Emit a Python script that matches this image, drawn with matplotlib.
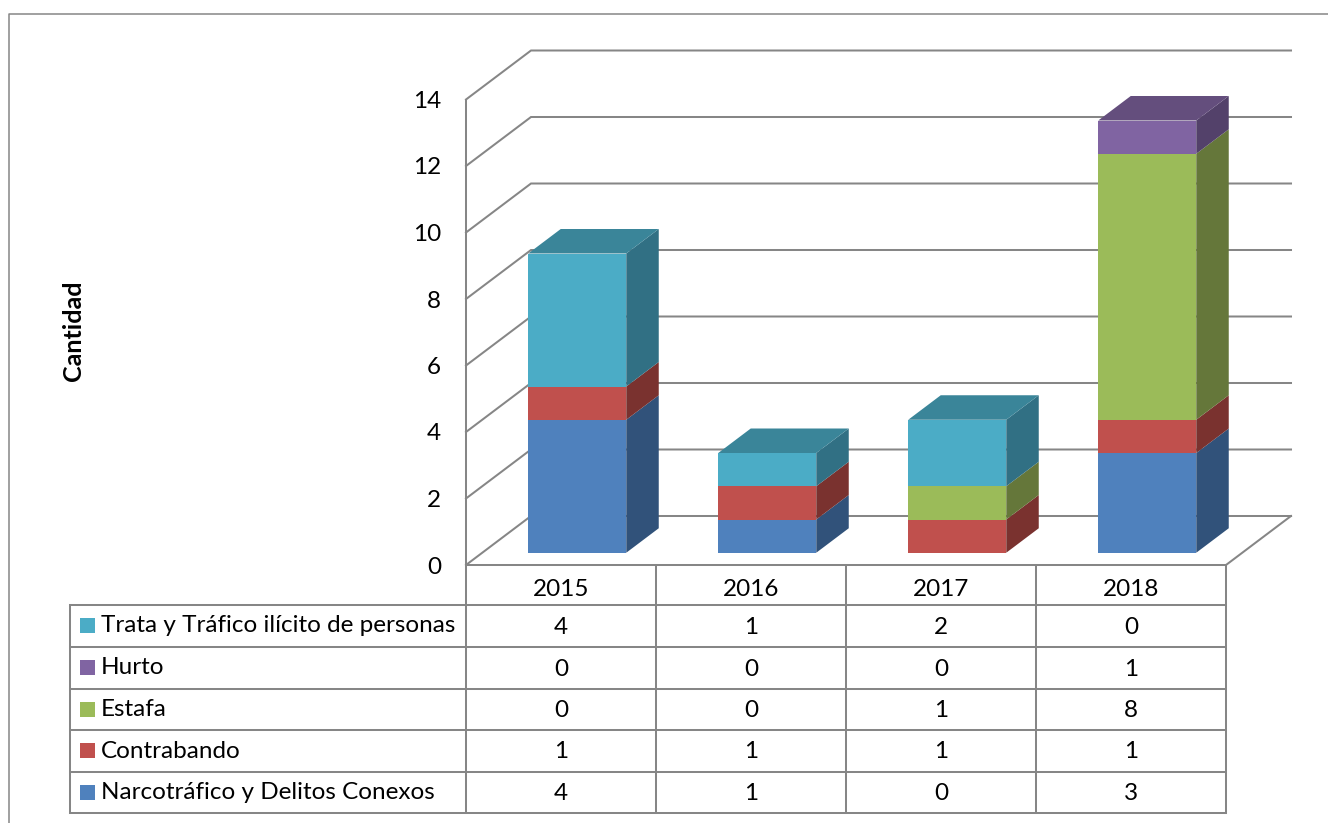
import matplotlib
matplotlib.use("Agg")
import matplotlib.pyplot as plt
from matplotlib.patches import Polygon, Rectangle

plt.rcParams['font.family'] = ['Lato', 'DejaVu Sans']

years = ['2015', '2016', '2017', '2018']
narcotrafico = [4, 1, 0, 3]
contrabando = [1, 1, 1, 1]
estafa = [0, 0, 1, 8]
hurto = [0, 0, 0, 1]
trata = [4, 1, 2, 0]
series_names = ['Narcotráfico y Delitos Conexos', 'Contrabando', 'Estafa', 'Hurto',
                'Trata y Tráfico ilícito de personas']
series_values = [narcotrafico, contrabando, estafa, hurto, trata]
front_colors = ['#4F81BD', '#C0504D', '#9BBB59', '#8064A2', '#4BACC6']
side_colors = ['#31527A', '#7A322F', '#65773A', '#53416A', '#317084']
top_colors = ['#3B6291', '#91403D', '#76904A', '#644E7D', '#3A8599']
yticks = list(range(0, 15, 2))

W, H = 1328, 823
GRID = '#868686'
FS = 17.5
fig = plt.figure(figsize=(W / 100, H / 100), dpi=100, facecolor='white')

# page-pixel overlay for frame and data table
ov = fig.add_axes([0, 0, 1, 1], zorder=1)
ov.set_xlim(0, W)
ov.set_ylim(H, 0)
ov.axis('off')

# chart axes: the front plane of the 3D box
L, R, T, B = 466, 1226, 99.5, 565
ax = fig.add_axes([L / W, 1 - B / H, (R - L) / W, (B - T) / H], zorder=2)
ax.patch.set_alpha(0)
ax.set_xlim(0, 4)
ax.set_ylim(0, 14)
for s in ax.spines.values():
    s.set_visible(False)
ax.set_xticks([])
ax.set_yticks(yticks)
ax.tick_params(axis='y', length=0, pad=18, labelsize=FS, labelcolor='black')

DX = 65 / 190   # depth of box in category units
DY = 49 / 33.25  # depth of box in value units


def P(x, v, d):
    return (x + d * DX, v + d * DY)


lw = 1.45
# walls
for v in yticks:
    ax.plot(*zip(P(0, v, 0), P(0, v, 1), P(4, v, 1)), color=GRID, lw=lw, clip_on=False, zorder=1,
            solid_joinstyle='miter')
ax.plot(*zip(P(0, 0, 0), P(4, 0, 0), P(4, 0, 1)), color=GRID, lw=lw, clip_on=False, zorder=1)

# stacked 3D bars
bw = 98 / 190
d0, d1 = 0.25, 0.75
for i in range(len(years)):
    x0, x1 = i + 0.5 - bw / 2, i + 0.5 + bw / 2
    base = 0
    last = None
    for k, vals in enumerate(series_values):
        h = vals[i]
        if h == 0:
            continue
        b, t = base, base + h
        ax.add_patch(Polygon([P(x0, b, d0), P(x1, b, d0), P(x1, t, d0), P(x0, t, d0)],
                             fc=front_colors[k], ec='none', zorder=5, clip_on=False))
        ax.add_patch(Polygon([P(x1, b, d0), P(x1, b, d1), P(x1, t, d1), P(x1, t, d0)],
                             fc=side_colors[k], ec='none', zorder=4, clip_on=False))
        base = t
        last = k
    ax.add_patch(Polygon([P(x0, base, d0), P(x1, base, d0), P(x1, base, d1), P(x0, base, d1)],
                         fc=top_colors[last], ec='none', zorder=4, clip_on=False))

# outer frame
ov.plot([9, 9, W], [H, 14, 14], color=GRID, lw=1.1)

# y axis title
ov.text(73, 331, 'Cantidad', rotation=90, ha='center', va='center', fontsize=18,
        fontweight='bold', color='black')

# data table
col_x = [466, 656, 846, 1036, 1226]
row_y = [605, 647, 689, 730, 772, 813]
for x in col_x:
    ov.plot([x, x], [T, 813] if x == col_x[0] else [565, 813], color=GRID, lw=lw, zorder=2)
for y in row_y:
    ov.plot([70, 1226], [y, y], color=GRID, lw=lw, zorder=2)
ov.plot([70, 70], [605, 813], color=GRID, lw=lw, zorder=2)

for j, yr in enumerate(years):
    ov.text((col_x[j] + col_x[j + 1]) / 2, 590, yr, ha='center', va='center', fontsize=FS, color='black')

order = list(range(len(series_names)))[::-1]
for r, k in enumerate(order):
    yc = (row_y[r] + row_y[r + 1]) / 2
    ov.add_patch(Rectangle((80, yc - 8), 15, 15, fc=front_colors[k], ec='none', zorder=3))
    ov.text(101, yc, series_names[k], ha='left', va='center', fontsize=FS, color='black')
    for j in range(len(years)):
        ov.text((col_x[j] + col_x[j + 1]) / 2, yc + 1, str(series_values[k][j]),
                ha='center', va='center', fontsize=FS, color='black')

fig.savefig('out.png', dpi=100, facecolor='white')
